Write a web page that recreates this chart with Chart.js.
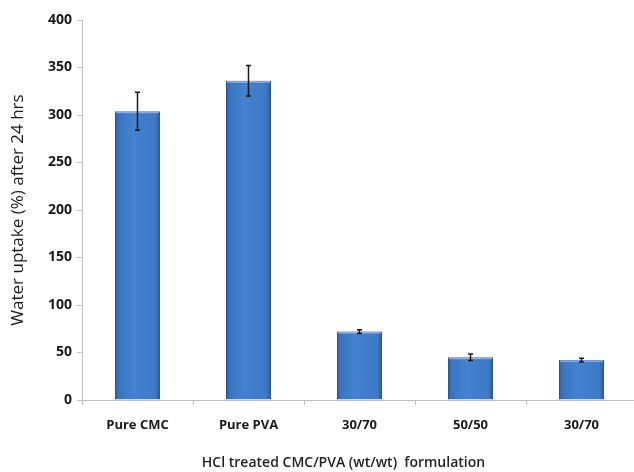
<!DOCTYPE html>
<html>
<head>
<meta charset="utf-8">
<script src="https://cdn.jsdelivr.net/npm/chart.js@4/dist/chart.umd.min.js"></script>
<style>
  html, body { margin: 0; padding: 0; background: #fff; overflow: hidden; }
  #wrap { width: 640px; height: 472px; }
</style>
</head>
<body>
<div id="wrap"><canvas id="chart"></canvas></div>
<script>
// values
const categories = ['Pure CMC', 'Pure PVA', '30/70', '50/50', '30/70'];
const uptake = [304, 336, 72, 45, 42];
const uptakeErr = [20, 16, 2, 3.5, 2];
const yTicks = [0, 50, 100, 150, 200, 250, 300, 350, 400];
const xTitle = 'HCl treated CMC/PVA (wt/wt)  formulation';

const FONT = '"Open Sans", Lato, sans-serif';
const BAR_PCT = 0.405;

// horizontal shading across each bar, like the office-style bevel
function barFill(ctx) {
    const chart = ctx.chart;
    const xs = chart.scales.x;
    if (!chart.chartArea || !xs || ctx.dataIndex === undefined) return '#4080d0';
    const cx = xs.getPixelForValue(ctx.dataIndex);
    const half = (xs.width / categories.length) * BAR_PCT / 2;
    if (!isFinite(cx) || !half) return '#4080d0';
    const g = chart.ctx.createLinearGradient(cx - half, 0, cx + half, 0);
    g.addColorStop(0, '#2d5b99');
    g.addColorStop(0.08, '#3a74bf');
    g.addColorStop(0.4, '#4282d1');
    g.addColorStop(0.9, '#3d79c6');
    g.addColorStop(1, '#2b5792');
    return g;
}

const errorBars = {
    id: 'errorBars',
    afterDatasetsDraw(chart) {
        const c = chart.ctx;
        const y = chart.scales.y;
        const meta = chart.getDatasetMeta(0);
        c.save();
        // light band on top of each bar
        meta.data.forEach((bar) => {
            c.fillStyle = 'rgba(140,185,240,0.8)';
            c.fillRect(bar.x - bar.width / 2 + 1, bar.y, bar.width - 2, 2);
        });
        c.strokeStyle = '#1a1a1a';
        c.lineWidth = 1.5;
        meta.data.forEach((bar, i) => {
            const hi = y.getPixelForValue(uptake[i] + uptakeErr[i]);
            const lo = y.getPixelForValue(uptake[i] - uptakeErr[i]);
            c.beginPath();
            c.moveTo(bar.x, hi); c.lineTo(bar.x, lo);
            c.moveTo(bar.x - 2.5, hi); c.lineTo(bar.x + 2.5, hi);
            c.moveTo(bar.x - 2.5, lo); c.lineTo(bar.x + 2.5, lo);
            c.stroke();
        });
        c.restore();
    }
};

// x axis title, centred a little left of the plot centre as in the source
const axisTitle = {
    id: 'axisTitle',
    afterDraw(chart) {
        const c = chart.ctx;
        const a = chart.chartArea;
        c.save();
        c.fillStyle = '#1f1f1f';
        c.font = '600 14px ' + FONT;
        c.textAlign = 'center';
        c.textBaseline = 'middle';
        c.fillText(xTitle, (a.left + a.right) / 2 - 16, a.bottom + 63);
        c.restore();
    }
};

new Chart(document.getElementById('chart'), {
    type: 'bar',
    data: {
        labels: categories,
        datasets: [{
            data: uptake,
            backgroundColor: barFill,
            borderColor: '#2a5184',
            borderWidth: 1,
            categoryPercentage: 1,
            barPercentage: BAR_PCT
        }]
    },
    options: {
        responsive: true,
        maintainAspectRatio: false,
        animation: false,
        layout: { padding: { top: 20, right: 3, left: 0, bottom: 0 } },
        plugins: { legend: { display: false }, tooltip: { enabled: false } },
        scales: {
            x: {
                afterFit(s) { s.height = 72; },
                grid: { drawOnChartArea: false, color: '#bfbfbf', tickLength: 5, offset: true },
                border: { color: '#bfbfbf', width: 1 },
                ticks: { color: '#1a1a1a', padding: 12, font: { family: FONT, size: 13, weight: 'bold' } },
                title: { display: false }
            },
            y: {
                min: 0,
                max: 400,
                afterFit(s) { s.width = 82; },
                afterBuildTicks(s) { s.ticks = yTicks.map(v => ({ value: v })); },
                grid: { drawOnChartArea: false, color: '#bfbfbf', tickLength: 5 },
                border: { color: '#bfbfbf', width: 1 },
                ticks: { color: '#1a1a1a', padding: 5, font: { family: FONT, size: 14, weight: 'bold' } },
                title: {
                    display: true,
                    text: 'Water uptake (%) after 24 hrs',
                    color: '#1a1a1a',
                    font: { family: FONT, size: 17 },
                    padding: { top: 8, bottom: 0 }
                }
            }
        }
    },
    plugins: [errorBars, axisTitle]
});
</script>
</body>
</html>
